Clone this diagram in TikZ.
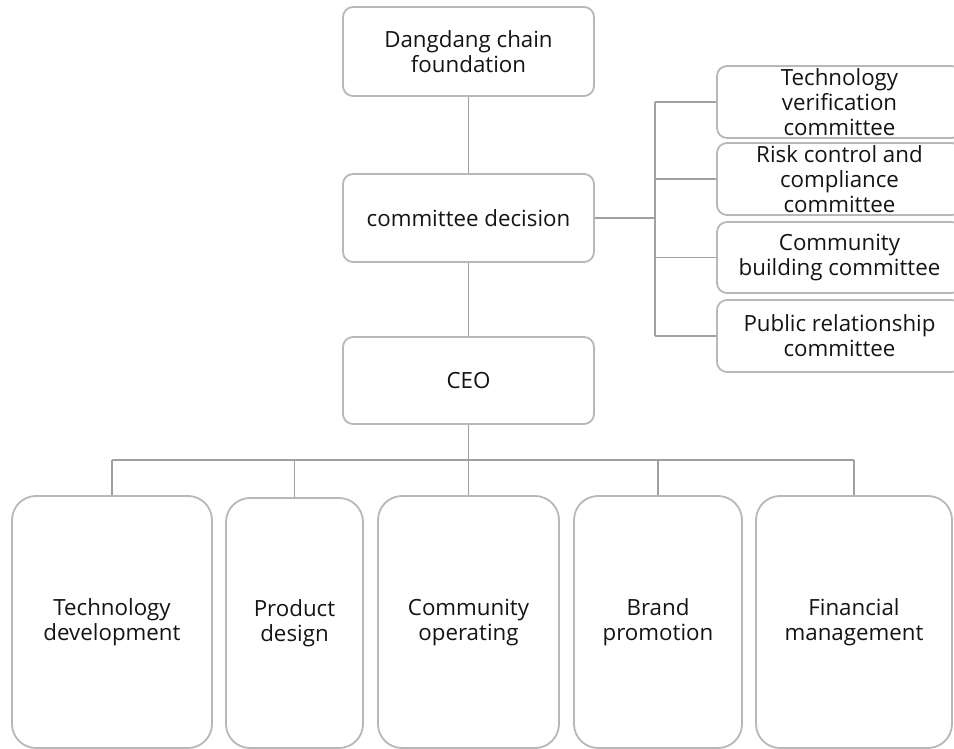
\documentclass[tikz,border=0pt]{standalone}
\usepackage{fontspec}
\setmainfont{Open Sans}
\definecolor{boxline}{HTML}{B8B8B8}
\definecolor{wire}{HTML}{A0A0A0}
\definecolor{ink}{HTML}{141414}
\tikzset{
  unit/.style={draw=boxline, line width=1.8pt, fill=white, text=ink, align=center,
    inner sep=0pt, font=\fontsize{22.3}{25}\selectfont},
  topbox/.style={unit, rounded corners=10pt},
  dept/.style={unit, rounded corners=24pt},
  wireline/.style={draw=wire, line width=1.9pt}
}
\begin{document}
\begin{tikzpicture}[x=1pt, y=-1pt]
\useasboundingbox (0,0) rectangle (954,749);
\fill[white] (0,0) rectangle (954,749);

% main chain
\node[topbox, minimum width=251pt, minimum height=89pt] (found) at (468.5,51.5) {Dangdang chain\\foundation};
\node[topbox, minimum width=251pt, minimum height=88pt] (decision) at (468.5,218) {committee decision};
\node[topbox, minimum width=251pt, minimum height=87pt] (ceo) at (468.5,380.5) {CEO};

% committees
\node[topbox, minimum width=245pt, minimum height=72pt] (c1) at (839.5,102) {Technology\\verification\\committee};
\node[topbox, minimum width=245pt, minimum height=72pt] (c2) at (839.5,179) {Risk control and\\compliance\\committee};
\node[topbox, minimum width=245pt, minimum height=71pt] (c3) at (839.5,257.5) {Community\\building committee};
\node[topbox, minimum width=245pt, minimum height=72pt] (c4) at (839.5,336) {Public relationship\\committee};

% departments
\node[dept, minimum width=200pt, minimum height=252pt] (d1) at (112,622) {Technology\\development};
\node[dept, minimum width=137pt, minimum height=250pt] (d2) at (294.5,623) {Product\\design};
\node[dept, minimum width=181pt, minimum height=252pt] (d3) at (468.5,622) {Community\\operating};
\node[dept, minimum width=168pt, minimum height=252pt] (d4) at (658,622) {Brand\\promotion};
\node[dept, minimum width=196pt, minimum height=252pt] (d5) at (854,622) {Financial\\management};

% connectors
\coordinate (cbus) at (655,218);
\coordinate (dbus) at (468.5,460);
\path[wireline] (found.south) -- (decision.north);
\path[wireline] (decision.south) -- (ceo.north);
\path[wireline] (decision.east) -- (cbus);
\path[wireline] (cbus |- c1.west) -- (cbus |- c4.west);
\foreach \c in {c1,c2,c3,c4} \path[wireline] (cbus |- \c.west) -- (\c.west);
\path[wireline] (ceo.south) -- (dbus);
\path[wireline] (dbus -| d1.north) -- (dbus -| d5.north);
\foreach \d in {d1,d2,d3,d4,d5} \path[wireline] (dbus -| \d.north) -- (\d.north);
\end{tikzpicture}
\end{document}
